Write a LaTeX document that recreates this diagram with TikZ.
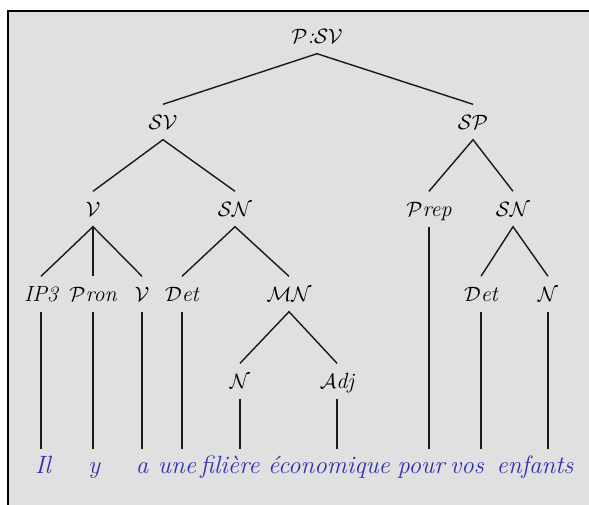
\documentclass[tikz,border=0pt]{standalone}
\usepackage{xcolor}
\definecolor{panel}{RGB}{224,224,224}
\definecolor{wordblue}{RGB}{48,48,176}
\tikzset{
  cat/.style={anchor=base, inner xsep=0pt, inner ysep=10.5pt, text height=14pt,
    text depth=0pt, font=\fontsize{22}{26}\selectfont\itshape},
  word/.style={anchor=base, inner xsep=0pt, inner ysep=10pt, text height=14pt,
    text depth=0pt, text=wordblue, font=\fontsize{25}{29}\selectfont\itshape},
  branch/.style={line width=1.4pt, draw=black!90}
}
\newcommand{\swash}[1]{\ensuremath{\mathcal{#1}}}
\begin{document}
\begin{tikzpicture}[x=1pt,y=-1pt]
\useasboundingbox (0,0) rectangle (589,504);
\fill[white] (0,0) rectangle (589,504);
% grey panel with its framed top-left corner
\fill[panel] (8,11) rectangle (600,520);
\draw[line width=2.8pt] (8,520) -- (8,11) -- (600,11);

% categories
\node[cat] (root) at (317,43)  {\swash{P}:\swash{SV}};
\node[cat] (sv)   at (163,129) {\swash{SV}};
\node[cat] (sp)   at (473,129) {\swash{SP}};
\node[cat] (v)    at (93,216)  {\swash{V}};
\node[cat] (sna)  at (235,216) {\swash{SN}};
\node[cat] (prep) at (429,216) {\swash{P}rep};
\node[cat] (snb)  at (513,216) {\swash{SN}};
\node[cat] (ip)   at (41,301)  {IP3};
\node[cat] (pron) at (93,301)  {\swash{P}ron};
\node[cat] (vb)   at (142,301) {\swash{V}};
\node[cat] (deta) at (182,301) {\swash{D}et};
\node[cat] (mn)   at (289,301) {\swash{MN}};
\node[cat] (detb) at (481,301) {\swash{D}et};
\node[cat] (nb)   at (548,301) {\swash{N}};
\node[cat] (na)   at (240,388) {\swash{N}};
\node[cat] (adj)  at (337,388) {\swash{A}dj};

% words of the sentence
\node[word] (w1) at (43,473)  {Il};
\node[word] (w2) at (94,473)  {y};
\node[word] (w3) at (142,473) {a};
\node[word] (w4) at (177,473) {une};
\node[word] (w5) at (230,473) {filière};
\node[word] (w6) at (329,473) {économique};
\node[word] (w7) at (421,473) {pour};
\node[word] (w8) at (467,473) {vos};
\node[word] (w9) at (535,473) {enfants};

% branches
\draw[branch] (sv.north) -- (root.south) -- (sp.north);
\draw[branch] (v.north) -- (sv.south) -- (sna.north);
\draw[branch] (prep.north) -- (sp.south) -- (snb.north);
\draw[branch] (ip.north) -- (v.south) -- (vb.north);
\draw[branch] (v.south) -- (pron.north);
\draw[branch] (deta.north) -- (sna.south) -- (mn.north);
\draw[branch] (detb.north) -- (snb.south) -- (nb.north);
\draw[branch] (na.north) -- (mn.south) -- (adj.north);

% lexical attachments
\draw[branch] (ip.south)   -- (ip.south |- w1.north);
\draw[branch] (pron.south) -- (pron.south |- w2.north);
\draw[branch] (vb.south)   -- (vb.south |- w3.north);
\draw[branch] (deta.south) -- (deta.south |- w4.north);
\draw[branch] (na.south)   -- (na.south |- w5.north);
\draw[branch] (adj.south)  -- (adj.south |- w6.north);
\draw[branch] (prep.south) -- (prep.south |- w7.north);
\draw[branch] (detb.south) -- (detb.south |- w8.north);
\draw[branch] (nb.south)   -- (nb.south |- w9.north);
\end{tikzpicture}
\end{document}
